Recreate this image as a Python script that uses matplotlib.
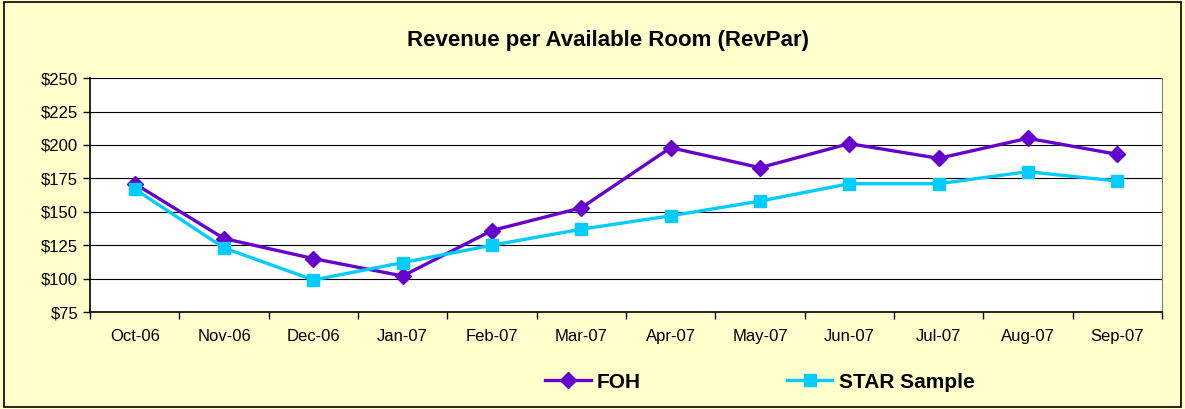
import matplotlib.pyplot as plt
from matplotlib.patches import Rectangle

plt.rcParams['font.family'] = ['Liberation Sans', 'DejaVu Sans']

months = ["Oct-06", "Nov-06", "Dec-06", "Jan-07", "Feb-07", "Mar-07",
          "Apr-07", "May-07", "Jun-07", "Jul-07", "Aug-07", "Sep-07"]
foh = [171, 130, 115, 102, 136, 153, 198, 183, 201, 190, 205, 193]
star = [167, 123, 99, 112, 125, 137, 147, 158, 171, 171, 180, 173]

bg = "#FFFFCC"
fig = plt.figure(figsize=(11.85, 4.09), dpi=100, facecolor=bg)
ax = fig.add_axes([0.076, 0.237, 0.9045, 0.572])
ax.set_facecolor("white")

x = list(range(len(months)))
ax.plot(x, foh, color="#6600CC", lw=2.4, marker="D", markersize=8,
        label="FOH", zorder=3)
ax.plot(x, star, color="#00CCFF", lw=2.4, marker="s", markersize=9,
        label="STAR Sample", zorder=4)

ax.set_ylim(75, 250)
ax.set_yticks(range(75, 251, 25))
ax.set_yticklabels(["${}".format(v) for v in range(75, 251, 25)], fontsize=12)
ax.yaxis.grid(True, color="black", lw=0.8)
ax.set_axisbelow(True)

ax.set_xlim(-0.5, len(months) - 0.5)
ax.set_xticks([i - 0.5 for i in range(len(months) + 1)])
ax.set_xticklabels([])
ax.set_xticks(x, minor=True)
ax.set_xticklabels(months, minor=True, fontsize=12)
ax.tick_params(axis="x", which="minor", length=0, pad=12)
ax.tick_params(axis="both", which="major", length=5, width=1, direction="out")

for s in ["left", "bottom"]:
    ax.spines[s].set_linewidth(1.2)
ax.spines["top"].set_visible(False)
ax.spines["right"].set_color("#808080")

fig.text(0.513, 0.902, "Revenue per Available Room (RevPar)", ha="center",
         va="center", fontsize=16, fontweight="bold")

fig.legend(loc="center", bbox_to_anchor=(0.641, 0.066), ncol=2, frameon=False,
           prop={"weight": "bold", "size": 15}, columnspacing=7.0,
           handlelength=2.2, handletextpad=0.3)

fig.patches.append(Rectangle((0.003, 0.005), 0.994, 0.99, transform=fig.transFigure,
                             fill=False, edgecolor="black", lw=1.2))

fig.savefig("out.png", dpi=100, facecolor=bg)
